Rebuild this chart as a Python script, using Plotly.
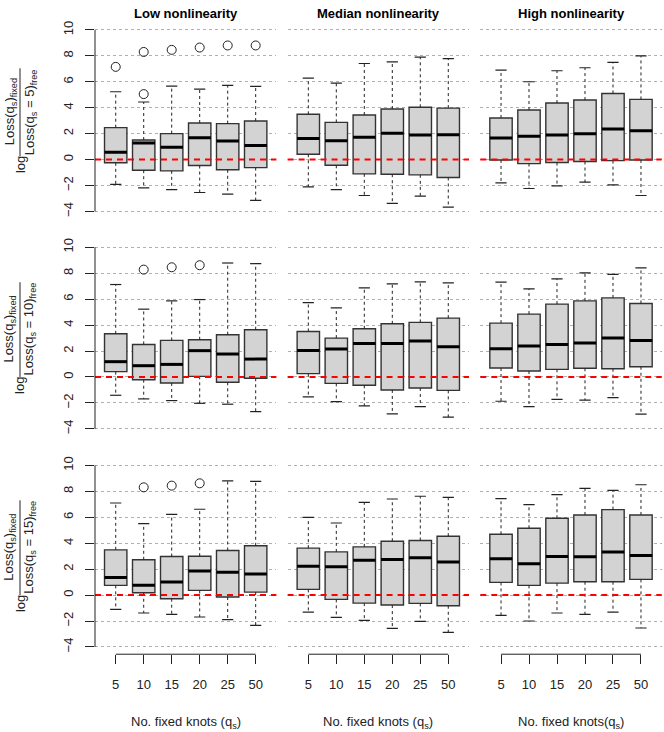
import plotly.graph_objects as go

knots = ["5", "10", "15", "20", "25", "50"]
col_titles = ["Low nonlinearity", "Median nonlinearity", "High nonlinearity"]
ref_knots = ["5", "10", "15"]
x_titles = ["No. fixed knots (q<sub>s</sub>)", "No. fixed knots (q<sub>s</sub>)",
            "No. fixed knots(q<sub>s</sub>)"]

# box stats, indexed [row][col][knot]
whisk_lo = [
    [[-1.92, -2.18, -2.31, -2.54, -2.67, -3.15], [-2.10, -2.31, -2.77, -3.38, -2.82, -3.67], [-1.79, -2.23, -2.03, -1.74, -1.95, -2.77]],
    [[-1.41, -1.69, -1.82, -2.03, -2.10, -2.67], [-1.54, -1.90, -2.23, -2.85, -2.28, -3.10], [-1.87, -2.28, -1.72, -1.79, -1.59, -2.87]],
    [[-1.10, -1.38, -1.49, -1.69, -1.90, -2.33], [-1.31, -1.72, -1.95, -2.56, -2.03, -2.87], [-1.56, -2.00, -1.38, -1.49, -1.31, -2.54]],
]
q1 = [
    [[-0.25, -0.82, -0.87, -0.46, -0.79, -0.62], [0.41, -0.44, -1.10, -1.13, -1.18, -1.38], [-0.03, -0.31, -0.23, -0.15, -0.08, -0.03]],
    [[0.41, -0.21, -0.46, 0.05, -0.41, -0.10], [0.26, -0.49, -0.64, -1.00, -0.85, -1.03], [0.69, 0.46, 0.59, 0.67, 0.64, 0.79]],
    [[0.75, 0.18, -0.28, 0.36, -0.15, 0.23], [0.44, -0.33, -0.62, -0.77, -0.64, -0.82], [0.98, 0.75, 0.92, 1.03, 1.03, 1.21]],
]
med = [
    [[0.56, 1.28, 0.95, 1.69, 1.44, 1.08], [1.62, 1.46, 1.72, 2.03, 1.90, 1.92], [1.67, 1.79, 1.90, 2.00, 2.36, 2.23]],
    [[1.18, 0.87, 0.97, 2.03, 1.77, 1.38], [2.05, 2.15, 2.59, 2.59, 2.77, 2.33], [2.18, 2.38, 2.51, 2.62, 3.00, 2.82]],
    [[1.36, 0.75, 1.00, 1.85, 1.77, 1.62], [2.23, 2.18, 2.69, 2.74, 2.87, 2.56], [2.80, 2.41, 2.97, 2.95, 3.33, 3.05]],
]
q3 = [
    [[2.46, 1.51, 2.00, 2.82, 2.77, 2.97], [3.49, 2.87, 3.44, 3.90, 4.03, 3.97], [3.21, 3.82, 4.36, 4.59, 5.10, 4.64]],
    [[3.33, 2.51, 2.82, 2.87, 3.26, 3.64], [3.51, 3.00, 3.72, 4.10, 4.21, 4.54], [4.15, 4.85, 5.62, 5.87, 6.10, 5.67]],
    [[3.49, 2.72, 2.97, 3.00, 3.44, 3.80], [3.62, 3.33, 3.72, 4.15, 4.21, 4.54], [4.69, 5.15, 5.92, 6.18, 6.59, 6.18]],
]
whisk_hi = [
    [[5.23, 4.44, 5.67, 5.44, 5.72, 5.64], [6.28, 5.90, 7.41, 7.54, 7.90, 7.79], [6.90, 6.00, 6.85, 7.08, 7.49, 8.00]],
    [[7.13, 5.23, 5.87, 5.97, 8.79, 8.74], [5.74, 5.33, 6.87, 7.18, 7.33, 7.26], [7.31, 6.79, 7.56, 8.03, 7.92, 8.41]],
    [[7.10, 5.51, 6.23, 6.62, 8.80, 8.77], [6.00, 5.56, 7.15, 7.41, 7.62, 7.54], [7.44, 6.98, 7.75, 8.23, 8.08, 8.51]],
]
# outliers (only the low-nonlinearity column has them)
out_row = [0, 0, 0, 0, 0, 0, 0, 1, 1, 1, 2, 2, 2]
out_knot = [0, 1, 1, 2, 3, 4, 5, 1, 2, 3, 1, 2, 3]
out_val = [7.15, 5.05, 8.30, 8.46, 8.64, 8.80, 8.80, 8.28, 8.46, 8.62, 8.31, 8.44, 8.62]

W, H = 664, 732
FONT = "Liberation Sans, Arial, Helvetica, sans-serif"
col_px = [(95, 276.4), (287.6, 469), (480.3, 661.7)]
row_px = [(20.7, 217.3), (238.7, 435.3), (457.4, 654)]
XR = [0.26, 6.74]
YR = [-4.56, 10.56]


def px(x):
    return x / W


def py(y):
    return 1 - y / H


fig = go.Figure()
layout = {}
shapes = []
annotations = []
pos = list(range(1, len(knots) + 1))

for r in range(3):
    for c in range(3):
        k = r * 3 + c + 1
        xa = "x" if k == 1 else f"x{k}"
        ya = "y" if k == 1 else f"y{k}"

        # box body
        fig.add_trace(go.Box(
            x=pos, q1=q1[r][c], median=med[r][c], q3=q3[r][c],
            lowerfence=q1[r][c], upperfence=q3[r][c],
            width=0.8, whiskerwidth=0, boxpoints=False,
            fillcolor="#d3d3d3", line=dict(color="#333333", width=1.4),
            xaxis=xa, yaxis=ya, hoverinfo="skip"))

        # dashed whiskers
        wx, wy = [], []
        for i, p in enumerate(pos):
            wx += [p, p, None, p, p, None]
            wy += [q3[r][c][i], whisk_hi[r][c][i], None, q1[r][c][i], whisk_lo[r][c][i], None]
        fig.add_trace(go.Scatter(x=wx, y=wy, mode="lines", xaxis=xa, yaxis=ya,
                                 line=dict(color="#222222", width=1, dash="3px,3px"),
                                 hoverinfo="skip"))
        # staples + medians
        sx, sy, mx, my = [], [], [], []
        for i, p in enumerate(pos):
            sx += [p - 0.2, p + 0.2, None, p - 0.2, p + 0.2, None]
            sy += [whisk_hi[r][c][i]] * 2 + [None] + [whisk_lo[r][c][i]] * 2 + [None]
            mx += [p - 0.4, p + 0.4, None]
            my += [med[r][c][i]] * 2 + [None]
        fig.add_trace(go.Scatter(x=sx, y=sy, mode="lines", xaxis=xa, yaxis=ya,
                                 line=dict(color="#222222", width=1.2), hoverinfo="skip"))
        fig.add_trace(go.Scatter(x=mx, y=my, mode="lines", xaxis=xa, yaxis=ya,
                                 line=dict(color="black", width=3), hoverinfo="skip"))

        # outliers
        ox = [pos[out_knot[j]] for j in range(len(out_val)) if out_row[j] == r and c == 0]
        oy = [out_val[j] for j in range(len(out_val)) if out_row[j] == r and c == 0]
        if ox:
            fig.add_trace(go.Scatter(x=ox, y=oy, mode="markers", xaxis=xa, yaxis=ya,
                                     marker=dict(symbol="circle-open", size=9, color="#222222",
                                                 line=dict(width=1)),
                                     hoverinfo="skip"))

        # reference line at 0
        shapes.append(dict(type="line", xref=f"{xa} domain", yref=ya, x0=0, x1=1, y0=0, y1=0,
                           line=dict(color="red", width=2, dash="6px,5px"), layer="above"))

        xd = [px(col_px[c][0]), px(col_px[c][1])]
        yd = [py(row_px[r][1]), py(row_px[r][0])]
        xkey = "xaxis" if k == 1 else f"xaxis{k}"
        ykey = "yaxis" if k == 1 else f"yaxis{k}"
        xax = dict(domain=xd, range=XR, anchor=ya, showgrid=False, zeroline=False,
                   showline=False, fixedrange=True)
        if r == 2:
            xax.update(tickmode="array", tickvals=pos, ticktext=knots, ticks="outside",
                       ticklen=9, tickcolor="#222222", tickwidth=1,
                       tickfont=dict(size=13, color="#222222"), ticklabelstandoff=9)
            shapes.append(dict(type="line", xref=xa, yref=f"{ya} domain", x0=pos[0], x1=pos[-1],
                               y0=0, y1=0, line=dict(color="#222222", width=1)))
        else:
            xax.update(showticklabels=False, ticks="")
        yax = dict(domain=yd, range=YR, anchor=xa, tick0=0, dtick=2, showgrid=True,
                   gridcolor="#b0b0b0", griddash="dot", gridwidth=1, zeroline=False,
                   showline=False, fixedrange=True)
        if c == 0:
            yax.update(ticks="outside", ticklen=9, tickcolor="#222222", tickwidth=1,
                       tickangle=-90, tickfont=dict(size=13, color="#222222"),
                       ticklabelstandoff=7)
            shapes.append(dict(type="line", xref=f"{xa} domain", yref=ya, x0=0, x1=0,
                               y0=-4, y1=10, line=dict(color="#222222", width=1)))
        else:
            yax.update(showticklabels=False, ticks="")
        layout[xkey] = xax
        layout[ykey] = yax

    # y-axis title: log of a fraction, drawn rotated
    cy = (row_px[r][0] + row_px[r][1]) / 2
    half = 52.5 if r == 0 else 56
    y_start, y_end = cy - half, cy + half
    bar_end = y_end - 17
    bar_c = (y_start + bar_end) / 2
    annotations.append(dict(x=px(10), y=py(bar_c), xref="paper", yref="paper", showarrow=False,
                            text="Loss(q<sub>s</sub>)<sub>fixed</sub>", textangle=-90,
                            font=dict(size=13, color="#222222"),
                            xanchor="center", yanchor="middle"))
    annotations.append(dict(x=px(30), y=py(bar_c), xref="paper", yref="paper", showarrow=False,
                            text=f"Loss(q<sub>s</sub> = {ref_knots[r]})<sub>free</sub>", textangle=-90,
                            font=dict(size=13, color="#222222"),
                            xanchor="center", yanchor="middle"))
    annotations.append(dict(x=px(20), y=py(bar_end + 9), xref="paper", yref="paper", showarrow=False,
                            text="log", textangle=-90, font=dict(size=13, color="#222222"),
                            xanchor="center", yanchor="middle"))
    shapes.append(dict(type="line", xref="paper", yref="paper", x0=px(20), x1=px(20),
                       y0=py(y_start), y1=py(bar_end), line=dict(color="#222222", width=1)))

for c in range(3):
    cx = (col_px[c][0] + col_px[c][1]) / 2
    annotations.append(dict(x=px(cx), y=py(12), xref="paper", yref="paper", showarrow=False,
                            text=f"<b>{col_titles[c]}</b>", font=dict(size=13, color="black"),
                            xanchor="center", yanchor="middle"))
    annotations.append(dict(x=px(cx), y=py(722), xref="paper", yref="paper", showarrow=False,
                            text=x_titles[c], font=dict(size=13, color="#222222"),
                            xanchor="center", yanchor="middle"))

fig.update_layout(
    width=W, height=H, margin=dict(l=0, r=0, t=0, b=0),
    paper_bgcolor="white", plot_bgcolor="white", showlegend=False,
    font=dict(family=FONT, size=13, color="#222222"),
    shapes=shapes, annotations=annotations, **layout)

# drop the default page margin so the figure sits at the window's top-left
fig.write_html("out.html", config={"displayModeBar": False},
               post_script="document.body.style.margin='0';")
